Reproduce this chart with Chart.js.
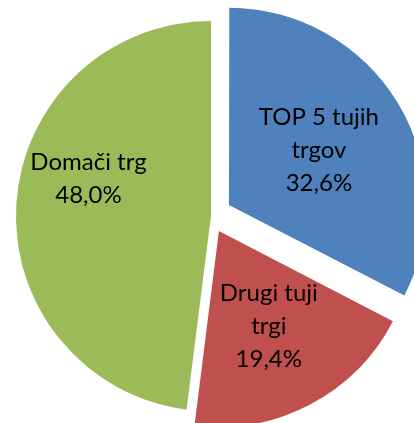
<!DOCTYPE html>
<html>
<head>
<meta charset="utf-8">
<script src="https://cdn.jsdelivr.net/npm/chart.js@4.4.1/dist/chart.umd.min.js"></script>
<style>
  html, body { margin: 0; padding: 0; background: #fff; }
  #wrap { width: 414px; height: 423px; position: relative; }
</style>
</head>
<body>
<div id="wrap"><canvas id="pie"></canvas></div>
<script>
// chart data
const categories = [['TOP 5 tujih', 'trgov'], ['Drugi tuji', 'trgi'], ['Domači trg']];
const shares = [32.6, 19.4, 48.0];

const sliceColors = ['#4F81BD', '#C0504D', '#9BBB59'];
const sliceOffsets = [84, 68, 0];          // chart.js moves an arc by offset / 4
const labelFraction = [0.54, 0.55, 0.65];  // label distance along the slice, as part of the radius
const labelShift = [[0, 0], [0, 0], [4, -29]];

// draws the category + percent text inside each slice
const sliceLabels = {
  id: 'sliceLabels',
  afterDatasetsDraw(chart) {
    const ctx = chart.ctx;
    const meta = chart.getDatasetMeta(0);
    ctx.save();
    ctx.font = '24px Lato';
    ctx.fillStyle = '#000';
    ctx.textAlign = 'center';
    ctx.textBaseline = 'middle';
    meta.data.forEach((arc, i) => {
      const p = arc.getProps(['x', 'y', 'startAngle', 'endAngle', 'outerRadius']);
      const mid = (p.startAngle + p.endAngle) / 2;
      const dist = sliceOffsets[i] / 4 + labelFraction[i] * p.outerRadius;
      const cx = p.x + Math.cos(mid) * dist + labelShift[i][0];
      const cy = p.y + Math.sin(mid) * dist + labelShift[i][1];
      const lines = categories[i].concat(shares[i].toFixed(1).replace('.', ',') + '%');
      const lh = 33;
      const top = cy - (lines.length - 1) * lh / 2;
      lines.forEach((t, k) => ctx.fillText(t, cx, top + k * lh));
    });
    ctx.restore();
  }
};

new Chart(document.getElementById('pie'), {
  type: 'pie',
  data: {
    labels: categories.map(c => c.join(' ')),
    datasets: [{
      data: shares,
      backgroundColor: sliceColors,
      borderWidth: 0,
      offset: sliceOffsets
    }]
  },
  options: {
    responsive: true,
    maintainAspectRatio: false,
    animation: false,
    radius: 195,
    layout: { padding: { left: 8, top: 9, right: 0, bottom: 0 } },
    plugins: {
      legend: { display: false },
      tooltip: { enabled: false }
    }
  },
  plugins: [sliceLabels]
});
</script>
</body>
</html>
